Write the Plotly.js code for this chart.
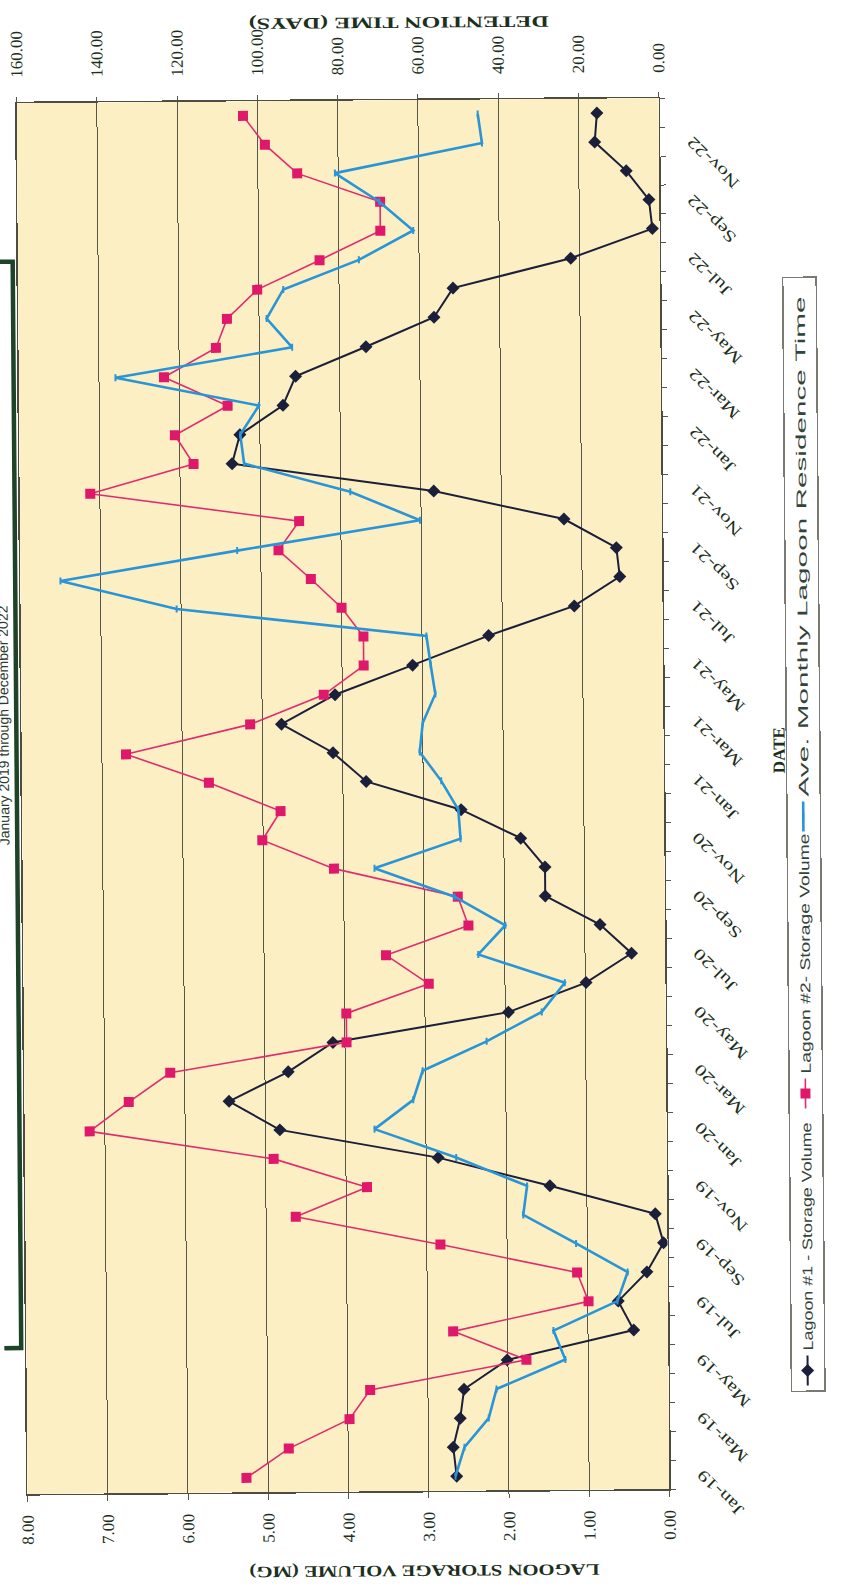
<!DOCTYPE html>
<html>
<head>
<meta charset="utf-8">
<script src="https://cdn.plot.ly/plotly-3.0.1.min.js"></script>
<style>
  html, body { margin: 0; padding: 0; width: 841px; height: 1585px; overflow: hidden; background: #ffffff; }
  /* the chart is laid out landscape and turned a quarter turn to stand on the page */
  #chart { position: absolute; left: -372px; top: 372px; width: 1585px; height: 841px; transform-origin: 50% 50%; }
</style>
</head>
<body>
<div id="chart"></div>
<script>
// Monthly categories, January 2019 through December 2022
const months = [
  'Jan-19','Feb-19','Mar-19','Apr-19','May-19','Jun-19','Jul-19','Aug-19','Sep-19','Oct-19','Nov-19','Dec-19',
  'Jan-20','Feb-20','Mar-20','Apr-20','May-20','Jun-20','Jul-20','Aug-20','Sep-20','Oct-20','Nov-20','Dec-20',
  'Jan-21','Feb-21','Mar-21','Apr-21','May-21','Jun-21','Jul-21','Aug-21','Sep-21','Oct-21','Nov-21','Dec-21',
  'Jan-22','Feb-22','Mar-22','Apr-22','May-22','Jun-22','Jul-22','Aug-22','Sep-22','Oct-22','Nov-22','Dec-22'
];

// Lagoon #1 storage volume (MG)
const lagoon1Volume = [
  2.65, 2.69, 2.60, 2.55, 2.01, 0.43, 0.62, 0.26, 0.05, 0.15, 1.46, 2.85,
  4.82, 5.45, 4.71, 4.15, 1.96, 0.99, 0.42, 0.81, 1.49, 1.49, 1.79, 2.53,
  3.71, 4.12, 4.76, 4.09, 3.12, 2.17, 1.10, 0.53, 0.57, 1.22, 2.84, 5.35,
  5.25, 4.71, 4.55, 3.67, 2.82, 2.58, 1.11, 0.09, 0.13, 0.41, 0.80, 0.77
];

// Lagoon #2 storage volume (MG)
const lagoon2Volume = [
  5.27, 4.74, 3.98, 3.72, 1.77, 2.68, 0.99, 1.13, 2.83, 4.63, 3.74, 4.90,
  7.19, 6.70, 6.18, 3.98, 3.98, 2.95, 3.48, 2.45, 2.58, 4.12, 5.01, 4.78,
  5.67, 6.70, 5.15, 4.23, 3.73, 3.73, 4.00, 4.38, 4.78, 4.52, 7.12, 5.83,
  6.06, 5.40, 6.19, 5.54, 5.40, 5.02, 4.24, 3.48, 3.48, 4.51, 4.91, 5.18
];

// Average monthly lagoon residence time (days)
const residenceDays = [
  53.3, 51.0, 44.9, 42.9, 25.7, 28.6, 12.6, 10.0, 22.8, 35.9, 34.9, 52.5,
  72.8, 63.1, 60.7, 44.7, 30.9, 25.1, 46.6, 39.8, 52.4, 72.3, 50.8, 51.3,
  55.5, 60.8, 60.0, 56.8, 57.9, 58.9, 121.1, 150.0, 105.9, 60.3, 77.6, 104.0,
  104.9, 100.2, 135.9, 91.8, 98.1, 93.9, 75.0, 61.4, 69.8, 80.8, 44.1, 45.1
];

// Every other month carries a label; every month carries a tick
const dateTickText = months.map((m, i) => (i % 2 === 0 ? m : ''));

const volumeTicks = [0, 1, 2, 3, 4, 5, 6, 7, 8];
const daysTicks = [0, 20, 40, 60, 80, 100, 120, 140, 160];

const seriesNames = ['Lagoon #1 - Storage Volume', 'Lagoon #2- Storage Volume', 'Ave. Monthly Lagoon Residence Time'];

const serif = 'Liberation Serif, Times New Roman, serif';
const sans = 'Liberation Sans, Arial, sans-serif';
const ink = '#1c2f20';
const gridInk = '#57564a';

const traces = [
  {
    x: months, y: lagoon1Volume, name: seriesNames[0],
    type: 'scatter', mode: 'lines+markers',
    line: { color: '#1c1f3a', width: 2 },
    marker: { symbol: 'diamond', size: 10, color: '#1c1f3a' }
  },
  {
    x: months, y: lagoon2Volume, name: seriesNames[1],
    type: 'scatter', mode: 'lines+markers',
    line: { color: '#e02c6e', width: 1.6 },
    marker: { symbol: 'square', size: 10, color: '#e0186b' }
  },
  {
    x: months, y: residenceDays, name: seriesNames[2],
    yaxis: 'y2', type: 'scatter', mode: 'lines+markers',
    line: { color: '#2a95d6', width: 2.6 },
    marker: { symbol: 'line-ew', size: 5, line: { color: '#2a95d6', width: 2 } }
  }
];

const layout = {
  width: 1585, height: 841,
  margin: { l: 94, r: 100, t: 22, b: 177 },
  paper_bgcolor: '#ffffff',
  plot_bgcolor: '#fcefc4',
  showlegend: true,
  xaxis: {
    type: 'category', categoryorder: 'array', categoryarray: months,
    range: [-0.5, months.length - 0.5], autorange: false,
    tickmode: 'array', tickvals: months, ticktext: dateTickText,
    tickangle: -45, ticks: 'outside', ticklen: 5, tickcolor: gridInk, tickson: 'boundaries',
    ticklabelstandoff: 16,
    showline: true, mirror: true, linecolor: '#4d4c42', linewidth: 1.5,
    showgrid: false, zeroline: false, automargin: false,
    tickfont: { family: serif, size: 16, color: ink }
  },
  yaxis: {
    range: [0, 8], tickmode: 'array', tickvals: volumeTicks, tickformat: '.2f',
    ticks: 'outside', ticklen: 6, tickcolor: gridInk,
    showline: true, mirror: true, linecolor: '#4d4c42', linewidth: 1.5,
    showgrid: true, gridcolor: gridInk, gridwidth: 1, zeroline: false, automargin: false,
    ticklabelstandoff: 10,
    tickfont: { family: serif, size: 17, color: ink }
  },
  yaxis2: {
    overlaying: 'y', side: 'right',
    range: [0, 160], tickmode: 'array', tickvals: daysTicks, tickformat: '.2f',
    ticks: 'outside', ticklen: 5, tickcolor: gridInk,
    showline: false, showgrid: false, zeroline: false, automargin: false,
    ticklabelstandoff: 16,
    tickfont: { family: serif, size: 17, color: ink }
  },
  legend: {
    orientation: 'h', x: 0.069, xanchor: 'left', y: -0.19, yanchor: 'top',
    bgcolor: '#ffffff', bordercolor: '#7a7a72', borderwidth: 1.5,
    font: { family: sans, size: 14, color: '#34443a' },
    entrywidth: 232, entrywidthmode: 'pixels'
  },
  shapes: [
    {
      type: 'rect', xref: 'paper', yref: 'paper', layer: 'above',
      x0: 0.105, x1: 0.886, y0: 1.008, y1: 1.2,
      fillcolor: '#ffffff', line: { color: '#1d4427', width: 4.5 }
    }
  ],
  annotations: [
    {
      text: 'LAGOON STORAGE VOLUME (MG)', xref: 'paper', yref: 'paper',
      x: -0.065, y: 0.383, textangle: -90, showarrow: false,
      font: { family: serif, size: 16, weight: 'bold', color: ink }
    },
    {
      text: 'DETENTION TIME (DAYS)', xref: 'paper', yref: 'paper',
      x: 1.064, y: 0.403, textangle: -90, showarrow: false,
      font: { family: serif, size: 16, weight: 'bold', color: ink }
    },
    {
      text: 'DATE', xref: 'paper', yref: 'paper',
      x: 0.5306, y: -0.198, showarrow: false,
      font: { family: serif, size: 17, weight: 'bold', color: ink }
    },
    {
      text: 'January 2019 through December 2022', xref: 'paper', yref: 'paper',
      x: 0.553, y: 1.0125, yanchor: 'bottom', showarrow: false,
      font: { family: sans, size: 14, color: '#2d3a30' }
    }
  ]
};

// Widths the printed lettering runs to (px)
const legendTextLengths = [228, 240, 500];
const axisTitleLengths = [350, 300];
const dateLabelStretch = 1.35;
const legendBoxWidth = 1114;

function stretch(el, length) {
  el.setAttribute('textLength', length);
  el.setAttribute('lengthAdjust', 'spacingAndGlyphs');
}

Plotly.newPlot('chart', traces, layout, { displayModeBar: false, staticPlot: true }).then((gd) => {
  // wide lettering on the date labels
  gd.querySelectorAll('.xtick text').forEach((t) => {
    if (t.textContent) stretch(t, t.getComputedTextLength() * dateLabelStretch);
  });
  // axis titles
  const notes = gd.querySelectorAll('.annotation-text');
  axisTitleLengths.forEach((len, i) => { if (notes[i]) stretch(notes[i], len); });
  // legend: wide item text and a box that spans it
  const legend = gd.querySelector('.legend');
  if (legend) {
    const box = legend.querySelector('.scrollbox');
    if (box) box.removeAttribute('clip-path');
    legend.querySelectorAll('.legendtext').forEach((t, i) => stretch(t, legendTextLengths[i]));
    const bg = legend.querySelector('rect.bg');
    if (bg) bg.setAttribute('width', legendBoxWidth);
  }
  gd.style.transform = 'rotate(-90.45deg)';
});
</script>
</body>
</html>
